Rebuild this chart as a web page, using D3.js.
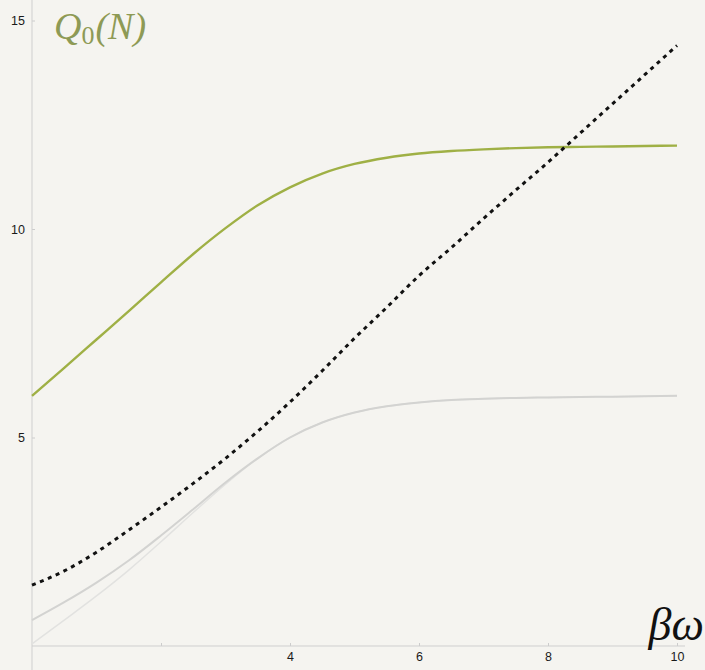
<!DOCTYPE html>
<html>
<head>
<meta charset="utf-8">
<script src="https://cdn.jsdelivr.net/npm/d3@7"></script>
<style>
  body { margin: 0; background: #f5f4f0; }
  svg { display: block; }
  .tick text { font-family: "Liberation Sans", Arial, sans-serif; font-size: 12.5px; fill: #1a1a1a; }
</style>
</head>
<body>
<div id="app"></div>
<script>
// values
var xs = [0, 0.5, 1, 1.5, 2, 2.5, 3, 3.5, 4, 4.5, 5, 5.5, 6, 6.5, 7, 7.5, 8, 8.5, 9, 9.5, 10];
var greenVals = [6.0, 6.67, 7.35, 8.03, 8.72, 9.4, 10.02, 10.57, 11.0, 11.33, 11.56, 11.71, 11.81, 11.87, 11.91, 11.94, 11.96, 11.97, 11.98, 11.99, 12.0];
var grayUpper = [0.62, 1.05, 1.52, 2.05, 2.65, 3.28, 3.92, 4.5, 5.0, 5.36, 5.6, 5.75, 5.84, 5.9, 5.93, 5.95, 5.96, 5.97, 5.98, 5.99, 6.0];
var grayLower = [0.05, 0.62, 1.2, 1.82, 2.5, 3.2, 3.88, 4.5, 5.0, 5.36, 5.6, 5.75, 5.84, 5.9, 5.93, 5.95, 5.96, 5.97, 5.98, 5.99, 6.0];
var dashedVals = [1.46, 1.8, 2.25, 2.78, 3.33, 3.9, 4.5, 5.15, 5.85, 6.6, 7.38, 8.12, 8.88, 9.55, 10.25, 10.93, 11.6, 12.3, 13.0, 13.7, 14.4];
var xTicks = [2, 4, 6, 8, 10];
var xTickLabels = ["", "4", "6", "8", "10"];
var yTicks = [5, 10, 15];

var width = 705, height = 670;

var svg = d3.select("#app").append("svg")
  .attr("width", width)
  .attr("height", height);

svg.append("rect").attr("width", width).attr("height", height).attr("fill", "#f5f4f0");

var x = d3.scaleLinear().domain([0, 10]).range([32, 677]);
var y = d3.scaleLinear().domain([0, 15]).range([646, 20.5]);

// axes
var xAxis = d3.axisBottom(x)
  .tickValues(xTicks)
  .tickFormat(function(d, i) { return xTickLabels[i]; })
  .tickSize(3)
  .tickPadding(3);

var gx = svg.append("g")
  .attr("transform", "translate(0," + y(0) + ")")
  .call(xAxis);
gx.select(".domain").remove();
gx.selectAll(".tick line").attr("stroke", "#ccc").attr("y1", -3).attr("y2", 0);
svg.append("line")
  .attr("x1", x(0)).attr("x2", 685)
  .attr("y1", y(0)).attr("y2", y(0))
  .attr("stroke", "#cfcfcf").attr("stroke-width", 1);

var yAxis = d3.axisLeft(y)
  .tickValues(yTicks)
  .tickSize(3)
  .tickPadding(4);

var gy = svg.append("g")
  .attr("transform", "translate(" + x(0) + ",0)")
  .call(yAxis);
gy.select(".domain").remove();
gy.selectAll(".tick line").attr("stroke", "#ccc").attr("x1", 0).attr("x2", 3);
svg.append("line")
  .attr("x1", x(0)).attr("x2", x(0))
  .attr("y1", 0).attr("y2", height)
  .attr("stroke", "#cfcfcf").attr("stroke-width", 1);

// curves
function makeLine(vals) {
  return d3.line()
    .x(function(d, i) { return x(xs[i]); })
    .y(function(d) { return y(d); })
    .curve(d3.curveMonotoneX)(vals);
}

svg.append("path")
  .attr("d", makeLine(grayLower))
  .attr("fill", "none")
  .attr("stroke", "#e2e2e0")
  .attr("stroke-width", 1.5);

svg.append("path")
  .attr("d", makeLine(grayUpper))
  .attr("fill", "none")
  .attr("stroke", "#d3d3d1")
  .attr("stroke-width", 2);

svg.append("path")
  .attr("d", makeLine(greenVals))
  .attr("fill", "none")
  .attr("stroke", "#9fb045")
  .attr("stroke-width", 2.4);

svg.append("path")
  .attr("d", makeLine(dashedVals))
  .attr("fill", "none")
  .attr("stroke", "#111")
  .attr("stroke-width", 3)
  .attr("stroke-dasharray", "4,4.6");

// labels
var ql = svg.append("text")
  .attr("x", 54)
  .attr("y", 39)
  .attr("font-family", "'Liberation Serif', 'DejaVu Serif', serif")
  .attr("font-style", "italic")
  .attr("font-size", 38)
  .attr("fill", "#8e9a55");
ql.append("tspan").text("Q");
ql.append("tspan").attr("font-style", "normal").attr("font-size", 26).attr("dy", 5).text("0");
ql.append("tspan").attr("dy", -5).attr("dx", 1).text("(N)");

svg.append("text")
  .attr("x", 704)
  .attr("y", 640)
  .attr("text-anchor", "end")
  .attr("font-family", "'Liberation Serif', 'DejaVu Serif', serif")
  .attr("font-style", "italic")
  .attr("font-size", 46)
  .attr("fill", "#111")
  .text("βω");
</script>
</body>
</html>
